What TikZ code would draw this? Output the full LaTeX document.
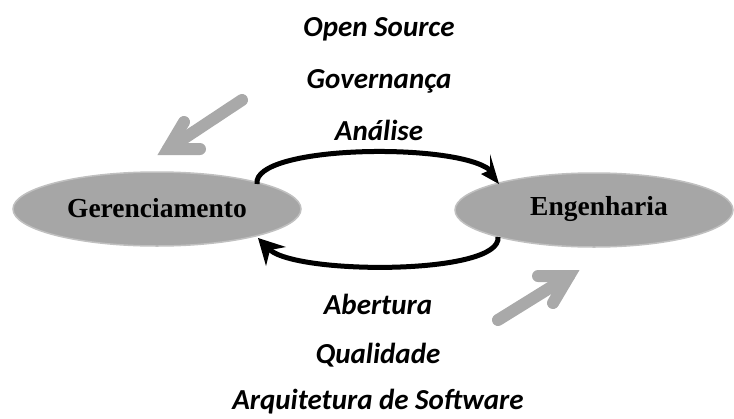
\documentclass[tikz,border=0pt]{standalone}
\usepackage{fontspec}
\setmainfont{Liberation Serif}
\newfontfamily\carlitofont{Carlito}
\usetikzlibrary{shapes.geometric}
\definecolor{ellfill}{HTML}{A6A6A6}
\definecolor{elldraw}{HTML}{C0C0C0}
\definecolor{garrow}{HTML}{A9A9A9}
\begin{document}
\begin{tikzpicture}[x=1pt,y=-1pt,
  ell/.style={ellipse,fill=ellfill,draw=elldraw,line width=1.5pt,inner sep=0pt},
  lbl/.style={font=\carlitofont\bfseries\itshape\fontsize{29}{34}\selectfont,inner sep=0pt},
  eltxt/.style={font=\bfseries\fontsize{27.5}{32}\selectfont,inner sep=0pt},
  cyc/.style={line width=5pt},
  tiphead/.style={fill=black},
  garr/.style={draw=garrow,line width=12pt,line cap=round,line join=miter}]
\useasboundingbox (0,0) rectangle (734,418);
\node[ell,minimum width=288pt,minimum height=74pt] (ger) at (157,209) {};
\node[ell,minimum width=278pt,minimum height=74pt] (eng) at (594,210) {};
\node[eltxt] (gert) at (157,208) {Gerenciamento};
\node[eltxt] (engt) at (599,209) {Engenharia};
% cycle arrows
\coordinate (a1) at (257,184);
\coordinate (a2) at (499,184);
\coordinate (a2i) at (490,170);
\coordinate (a2b) at (490,154);
\coordinate (a2c) at (481,174);
\coordinate (b1) at (498,237);
\coordinate (b2) at (258,238);
\coordinate (b2i) at (270,250);
\coordinate (b2b) at (286,247);
\coordinate (b2c) at (266,266);
\draw[cyc] (a1) .. controls (252,145) and (455,142) .. (a2i);
\fill[tiphead] (a2) -- (a2b) -- (a2i) -- (a2c) -- cycle;
\draw[cyc] (b1) .. controls (502,275) and (300,275) .. (b2i);
\fill[tiphead] (b2) -- (b2b) -- (b2i) -- (b2c) -- cycle;
% gray arrows
\coordinate (g1s) at (242,100);
\coordinate (g1v) at (168,149);
\coordinate (g1a) at (184,122);
\coordinate (g1b) at (200,149);
\draw[garr] (g1s) -- (g1v);
\draw[garr] (g1a) -- (g1v) -- (g1b);
\coordinate (g2s) at (498,320);
\coordinate (g2v) at (569,276);
\coordinate (g2a) at (538,276);
\coordinate (g2b) at (553,303);
\draw[garr] (g2s) -- (g2v);
\draw[garr] (g2a) -- (g2v) -- (g2b);
\node[lbl] (t1) at (379,29) {Open Source};
\node[lbl] (t2) at (379,81) {Governança};
\node[lbl] (t3) at (379,130) {Análise};
\node[lbl] (t4) at (378,304) {Abertura};
\node[lbl] (t5) at (378,355) {Qualidade};
\node[lbl] (t6) at (378,402) {Arquitetura de Software};
\end{tikzpicture}
\end{document}
